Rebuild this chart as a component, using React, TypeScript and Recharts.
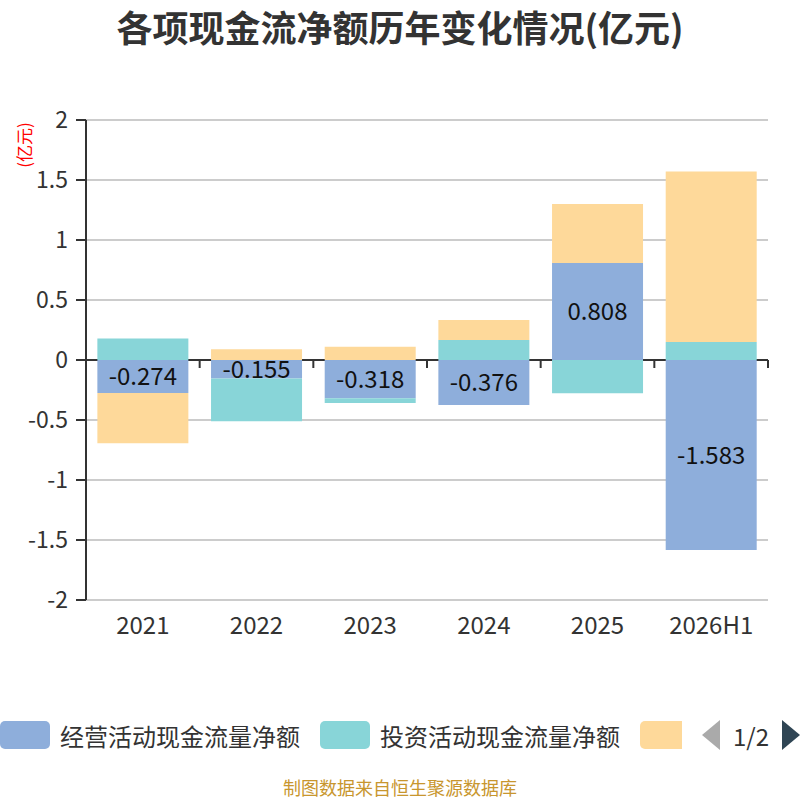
import React from 'react';
import { BarChart, Bar, XAxis, YAxis, CartesianGrid, LabelList } from 'recharts';

const years = ['2021', '2022', '2023', '2024', '2025', '2026H1'];
const operating = [-0.274, -0.155, -0.318, -0.376, 0.808, -1.583];
const investing = [0.18, -0.355, -0.04, 0.167, -0.278, 0.15];
const financing = [-0.42, 0.09, 0.11, 0.166, 0.492, 1.42];
const yTicks = [-2, -1.5, -1, -0.5, 0, 0.5, 1, 1.5, 2];

const seriesNames = ['经营活动现金流量净额', '投资活动现金流量净额', '筹资活动现金流量净额'];
const colors = ['#8eaedb', '#88d5d8', '#fed99a'];

const data = years.map((y, i) => ({
  year: y,
  op: operating[i],
  inv: investing[i],
  fin: financing[i],
}));

const FONT = "'Noto Sans CJK SC', 'Noto Sans', sans-serif";
const ZERO_INDEX = yTicks.indexOf(0);

function GridLine(props: any) {
  const { x1, y1, x2, y2, index } = props;
  if (x1 == null || y1 == null) return null;
  if (index === ZERO_INDEX) {
    const n = years.length;
    const step = (x2 - x1) / n;
    const ticks = [];
    for (let i = 1; i <= n; i++) {
      const x = x1 + i * step;
      ticks.push(<line key={i} x1={x} y1={y1} x2={x} y2={y1 + 8} stroke="#333" strokeWidth={2} />);
    }
    return (
      <g key={`zero-${index}`}>
        <line x1={x1} y1={y1} x2={x2} y2={y2} stroke="#333" strokeWidth={2} />
        {ticks}
      </g>
    );
  }
  return <line key={`grid-${index}`} x1={x1} y1={y1} x2={x2} y2={y2} stroke="#cccccc" strokeWidth={2} />;
}

export default function App() {
  return (
    <div style={{ position: 'absolute', left: 0, top: 0, width: 800, height: 800, background: '#fff', fontFamily: FONT }}>
      <BarChart
        width={800}
        height={800}
        data={data}
        stackOffset="sign"
        barCategoryGap="10%"
        margin={{ top: 120, right: 32, left: 0, bottom: 170 }}
      >
        <CartesianGrid vertical={false} horizontal={GridLine} />
        <XAxis
          dataKey="year"
          height={30}
          axisLine={false}
          tickLine={false}
          tickSize={6}
          tickMargin={11}
          tick={{ fill: '#333', fontSize: 24 }}
          interval={0}
        />
        <YAxis
          type="number"
          domain={[-2, 2]}
          ticks={yTicks}
          interval={0}
          width={86}
          tickSize={10}
          tickMargin={8}
          axisLine={{ stroke: '#333', strokeWidth: 2 }}
          tickLine={{ stroke: '#333', strokeWidth: 2 }}
          tick={{ fill: '#333', fontSize: 23 }}
        />
        <Bar dataKey="op" name={seriesNames[0]} stackId="a" fill={colors[0]} isAnimationActive={false}>
          <LabelList dataKey="op" position="center" fill="#111" fontSize={24} />
        </Bar>
        <Bar dataKey="inv" name={seriesNames[1]} stackId="a" fill={colors[1]} isAnimationActive={false} />
        <Bar dataKey="fin" name={seriesNames[2]} stackId="a" fill={colors[2]} isAnimationActive={false} />
      </BarChart>
      <svg width={800} height={800} style={{ position: 'absolute', left: 0, top: 0, pointerEvents: 'none' }}>
        <defs>
          <clipPath id="legClip">
            <rect x={640} y={700} width={42} height={60} />
          </clipPath>
        </defs>
        <text x={400} y={26} textAnchor="middle" dominantBaseline="central" fontSize={36} fontWeight="bold" fill="#333">
          各项现金流净额历年变化情况(亿元)
        </text>
        <text x={23} y={145} textAnchor="middle" dominantBaseline="central" fontSize={17} fill="#ff0000" transform="rotate(-90 23 145)">
          (亿元)
        </text>
        <rect x={0} y={721} width={50} height={28} rx={5} fill={colors[0]} />
        <text x={60} y={735} dominantBaseline="central" fontSize={24} fill="#333">{seriesNames[0]}</text>
        <rect x={320} y={721} width={50} height={28} rx={5} fill={colors[1]} />
        <text x={380} y={735} dominantBaseline="central" fontSize={24} fill="#333">{seriesNames[1]}</text>
        <rect x={640} y={721} width={50} height={28} rx={5} fill={colors[2]} clipPath="url(#legClip)" />
        <polygon points="720,720 702,735 720,750" fill="#aaaaaa" />
        <text x={751} y={735} textAnchor="middle" dominantBaseline="central" fontSize={24} fill="#333">1/2</text>
        <polygon points="782,720 800,735 782,750" fill="#2f4554" />
        <text x={400} y={787} textAnchor="middle" dominantBaseline="central" fontSize={18} fill="#c8962e">
          制图数据来自恒生聚源数据库
        </text>
      </svg>
    </div>
  );
}
